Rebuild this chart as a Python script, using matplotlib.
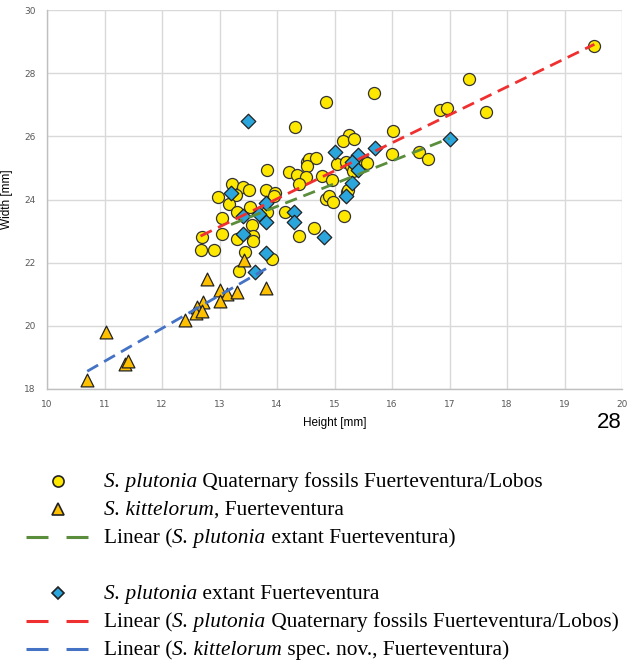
import matplotlib.pyplot as plt
import numpy as np

# S. plutonia Quaternary fossils Fuerteventura/Lobos (circles)
fossil_h = [19.52, 17.34, 15.69, 14.86, 14.31, 16.83, 16.96, 17.63, 16.02, 15.26,
            15.15, 15.34, 16.00, 16.47, 16.63, 15.05, 15.20, 15.28, 15.37, 15.32,
            15.52, 15.57, 14.52, 14.55, 14.67, 14.52, 14.20, 14.35, 14.50, 14.38,
            14.78, 14.96, 14.86, 14.91, 14.98, 15.22, 15.24, 15.17, 13.82, 13.21,
            13.40, 13.52, 13.80, 13.97, 13.94, 12.98, 13.29, 13.17, 13.53, 14.14,
            13.83, 13.30, 13.05, 13.57, 12.70, 13.05, 13.31, 13.58, 13.59, 12.67,
            12.90, 13.44, 13.92, 13.34, 14.39, 14.64]
fossil_w = [28.85, 27.83, 27.38, 27.08, 26.29, 26.84, 26.90, 26.76, 26.16, 26.03,
            25.86, 25.91, 25.45, 25.49, 25.29, 25.13, 25.18, 25.05, 25.08, 24.91,
            25.23, 25.17, 25.19, 25.28, 25.31, 25.05, 24.86, 24.76, 24.72, 24.49,
            24.73, 24.62, 24.02, 24.10, 23.92, 24.23, 24.31, 23.48, 24.94, 24.50,
            24.38, 24.31, 24.31, 24.20, 24.12, 24.08, 24.13, 23.86, 23.76, 23.62,
            23.60, 23.59, 23.43, 23.18, 22.81, 22.91, 22.76, 22.83, 22.69, 22.40,
            22.40, 22.34, 22.12, 21.74, 22.83, 23.09]

# S. kittelorum, Fuerteventura (triangles)
kitt_h = [12.79, 13.00, 13.13, 13.30, 13.00, 12.72, 12.60, 12.59, 12.70, 12.40,
          13.81, 13.43, 11.03, 11.36, 11.40, 10.70]
kitt_w = [21.49, 21.14, 21.00, 21.08, 20.80, 20.77, 20.61, 20.40, 20.48, 20.19,
          21.21, 22.09, 19.80, 18.78, 18.89, 18.29]

# S. plutonia extant Fuerteventura (diamonds)
extant_h = [13.50, 15.00, 15.40, 15.70, 15.30, 15.40, 15.30, 15.20, 17.00, 13.20,
            13.81, 13.69, 13.40, 13.81, 14.30, 14.30, 13.40, 14.81, 13.81, 13.61]
extant_w = [26.49, 25.50, 25.42, 25.62, 25.20, 24.92, 24.53, 24.12, 25.90, 24.20,
            23.90, 23.54, 23.49, 23.30, 23.60, 23.30, 22.90, 22.81, 22.32, 21.72]

# legend entries as (text, italic) pieces
legend_labels = [
    [("S. plutonia", True), (" Quaternary fossils Fuerteventura/Lobos", False)],
    [("S. kittelorum", True), (", Fuerteventura", False)],
    [("Linear (", False), ("S. plutonia", True), (" extant Fuerteventura)", False)],
    [("S. plutonia", True), (" extant Fuerteventura", False)],
    [("Linear (", False), ("S. plutonia", True), (" Quaternary fossils Fuerteventura/Lobos)", False)],
    [("Linear (", False), ("S. kittelorum", True), (" spec. nov., Fuerteventura)", False)],
]

yellow = "#FFE800"
gold = "#FFC000"
cyan = "#2AA6DD"
red = "#F03030"
green = "#5B8E3C"
blue = "#4472C4"

fig = plt.figure(figsize=(6.3, 6.63), dpi=100)
W, H = 630, 663
ax = fig.add_axes([47 / W, 1 - 389 / H, 575 / W, 379 / H])

def trend(x, y, color):
    x = np.array(x)
    k, b = np.polyfit(x, y, 1)
    xs = np.array([x.min(), x.max()])
    ax.plot(xs, k * xs + b, color=color, lw=2, dashes=(4.5, 2.5), zorder=4)

ax.scatter(fossil_h, fossil_w, s=75, marker="o", color=yellow, edgecolor="#333333", linewidth=0.9, zorder=3)
ax.scatter(kitt_h, kitt_w, s=85, marker="^", color=gold, edgecolor="#222222", linewidth=0.9, zorder=3)
ax.scatter(extant_h, extant_w, s=55, marker="D", color=cyan, edgecolor="#222222", linewidth=0.9, zorder=3)

trend(fossil_h, fossil_w, red)
trend(extant_h, extant_w, green)
trend(kitt_h, kitt_w, blue)

ax.set_xlim(10, 20)
ax.set_ylim(18, 30)
ax.set_xticks(np.arange(10, 21, 1))
ax.set_yticks(np.arange(18, 31, 2))
ax.grid(color="#D9D9D9", linewidth=1)
ax.set_axisbelow(True)
for s in ["top", "right"]:
    ax.spines[s].set_visible(False)
for s in ["left", "bottom"]:
    ax.spines[s].set_color("#BFBFBF")
    ax.spines[s].set_linewidth(1)
ax.tick_params(length=0, labelsize=6.5, labelcolor="#595959", pad=8)
for lab in ax.get_xticklabels() + ax.get_yticklabels():
    lab.set_family(["Liberation Sans Narrow", "DejaVu Sans"])
ax.set_xlabel("Height [mm]", fontsize=8.5, family="Liberation Sans", labelpad=6)
ax.set_ylabel("Width [mm]", fontsize=8.5, family="Liberation Sans", labelpad=8)

fig.text(622 / W, 1 - 428 / H, "28", fontsize=16, family="Liberation Sans", ha="right", va="baseline")

# legend drawn below the chart
lg = fig.add_axes([0, 0, 1, 1 - 450 / H])
lg.set_xlim(0, W)
lg.set_ylim(H, 450)
lg.axis("off")
rows = [481, 509, 537, 593, 621, 649]
lg.plot(58, rows[0], "o", ms=8, color=yellow, mec="#222222", mew=1.2)
lg.plot(58, rows[1], "^", ms=8, color=gold, mec="#222222", mew=1.2)
lg.plot(58, rows[3], "D", ms=6.5, color=cyan, mec="#222222", mew=1.2)
for r, c in [(rows[2], green), (rows[4], red), (rows[5], blue)]:
    lg.plot([26, 88], [r, r], color=c, lw=2.2, dashes=(7.2, 5.9), solid_capstyle="butt", dash_capstyle="butt")

font = dict(fontsize=15.4, family="Liberation Serif")
for r, pieces in zip(rows, legend_labels):
    prev = None
    for txt, it in pieces:
        style = "italic" if it else "normal"
        if prev is None:
            prev = lg.text(104, r + 6, txt, style=style, va="baseline", ha="left", **font)
        else:
            prev = lg.annotate(txt, xy=(1, 0), xycoords=prev, va="bottom", ha="left",
                               style=style, **font)

fig.savefig("out.png", dpi=100)
